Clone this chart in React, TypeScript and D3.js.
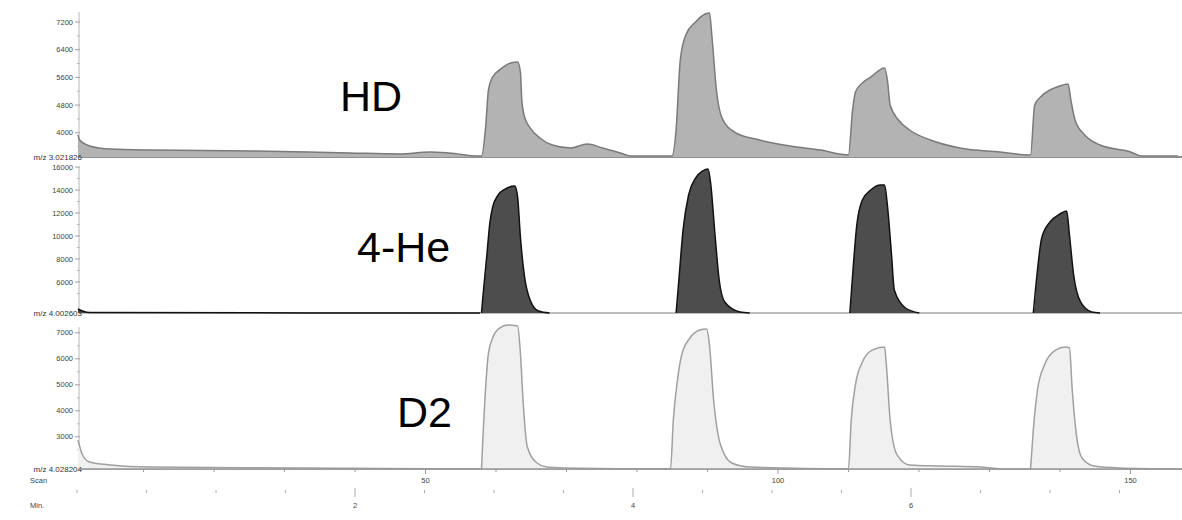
import React from "react";
import * as d3 from "d3";

// ---- data (time in minutes, signal in counts) ----
const hdTime = [0.007, 0.02, 0.09, 0.24, 0.53, 1.25, 1.96, 2.32, 2.54, 2.68, 2.89,
  2.91, 2.94, 2.96, 2.99, 3.04, 3.12, 3.17, 3.19, 3.2, 3.22, 3.26, 3.33, 3.42, 3.55, 3.67, 3.78, 3.91, 3.98, 4.28,
  4.31, 4.34, 4.38, 4.45, 4.52, 4.55, 4.57, 4.6, 4.64, 4.73, 4.91, 5.13, 5.35, 5.55,
  5.58, 5.6, 5.65, 5.71, 5.81, 5.83, 5.85, 5.91, 5.99, 6.14, 6.35, 6.64, 6.86,
  6.89, 6.94, 7.0, 7.07, 7.13, 7.15, 7.18, 7.25, 7.36, 7.58, 7.66, 7.92];
const hdSignal = [3940, 3790, 3620, 3530, 3500, 3475, 3415, 3390, 3445, 3415, 3330,
  3330, 4170, 5240, 5610, 5815, 6015, 6045, 5760, 4950, 4455, 4140, 3850, 3645, 3560, 3675, 3560, 3415, 3330, 3330,
  4080, 6100, 6825, 7200, 7430, 7460, 6680, 5235, 4430, 4020, 3790, 3620, 3500, 3360,
  4660, 5180, 5440, 5610, 5870, 5525, 4800, 4370, 4080, 3790, 3560, 3445, 3360,
  4800, 5065, 5235, 5350, 5410, 4950, 4370, 3935, 3645, 3445, 3330, 3330];

const heTime = [0.007, 0.04, 0.09, 2.9,
  2.91, 2.92, 2.95, 2.97, 2.99, 3.03, 3.08, 3.15, 3.17, 3.19, 3.22, 3.26, 3.32, 3.4,
  4.31, 4.33, 4.36, 4.4, 4.45, 4.5, 4.54, 4.56, 4.59, 4.62, 4.66, 4.77, 4.84,
  5.56, 5.58, 5.61, 5.65, 5.71, 5.78, 5.81, 5.83, 5.86, 5.88, 5.96, 6.06,
  6.88, 6.91, 6.94, 7.0, 7.07, 7.12, 7.14, 7.17, 7.22, 7.3, 7.36, 7.92];
const heSignal = [3650, 3475, 3340, 3300,
  3300, 4690, 8520, 11130, 12520, 13570, 14090, 14350, 13390, 9910, 6430, 4430, 3475, 3300,
  3300, 6170, 10520, 13570, 15045, 15650, 15830, 14440, 10090, 6170, 4260, 3390, 3300,
  3300, 6610, 10960, 13130, 14000, 14440, 14440, 12700, 8350, 5300, 3735, 3300,
  3300, 7040, 9820, 11220, 11910, 12170, 10090, 6610, 4260, 3390, 3300, 3300];

const d2Time = [0.007, 0.04, 0.09, 0.24, 0.53, 1.6, 2.9,
  2.91, 2.94, 2.96, 2.99, 3.04, 3.1, 3.17, 3.19, 3.21, 3.24, 3.31, 3.38, 3.5,
  4.27, 4.29, 4.32, 4.35, 4.41, 4.48, 4.53, 4.55, 4.58, 4.63, 4.71, 4.84,
  5.55, 5.57, 5.6, 5.65, 5.72, 5.81, 5.82, 5.85, 5.9, 5.99, 6.21, 6.5, 6.64,
  6.86, 6.88, 6.91, 6.96, 7.04, 7.11, 7.14, 7.16, 7.19, 7.23, 7.32, 7.5, 7.92];
const d2Signal = [2875, 2300, 2030, 1915, 1835, 1800, 1760,
  1760, 4915, 6220, 6800, 7180, 7300, 7260, 6220, 4300, 2605, 1990, 1835, 1800,
  1760, 3645, 5185, 6145, 6800, 7105, 7145, 6530, 4415, 2680, 1990, 1835,
  1760, 3645, 4990, 5875, 6335, 6450, 5950, 3645, 2300, 1915, 1875, 1835, 1760,
  1760, 3260, 4800, 5760, 6335, 6450, 6415, 4800, 3070, 2185, 1875, 1800, 1760];

const hdTicks = [4000, 4800, 5600, 6400, 7200];
const heTicks = [6000, 8000, 10000, 12000, 14000, 16000];
const d2Ticks = [3000, 4000, 5000, 6000, 7000];

const seriesNames = ["HD", "4-He", "D2"];
const massLabels = ["m/z 3.021826", "m/z 4.002603", "m/z 4.028204"];
const scanTicks = [50, 100, 150];
const minTicks = [2, 4, 6];

// ---- layout ----
const W = 1182;
const H = 520;
const X0 = 77;
const PX_PER_MIN = 139;
const TMAX = 7.92;

const panels = [
  { name: seriesNames[0], mz: massLabels[0], t: hdTime, v: hdSignal, ticks: hdTicks, minor: 400,
    domain: [3300, 7546], range: [157, 10], fill: "#b3b3b3", stroke: "#7a7a7a", base: "#6a6a6a",
    label: { x: 340, y: 111 } },
  { name: seriesNames[1], mz: massLabels[1], t: heTime, v: heSignal, ticks: heTicks, minor: 1000,
    domain: [3300, 16180], range: [313, 165], fill: "#4d4d4d", stroke: "#111111", base: "#a8a8a8",
    label: { x: 357, y: 262 } },
  { name: seriesNames[2], mz: massLabels[2], t: d2Time, v: d2Signal, ticks: d2Ticks, minor: 500,
    domain: [1760, 7300], range: [469, 325], fill: "#f0f0f0", stroke: "#a0a0a0", base: "#9a9a9a",
    label: { x: 397, y: 427 } },
];

type Pt = [number, number];

export default function App() {
  const x = d3.scaleLinear().domain([0, TMAX]).range([X0, X0 + PX_PER_MIN * TMAX]);
  const xs = d3.scaleLinear().domain([0, 156]).range([73, 73 + 7.05 * 156]);
  const font = "'Liberation Sans', Arial, sans-serif";
  const axisY = 469;

  const scanMinor = d3.range(10, 157, 10);
  const minMinor = d3.range(0, 7.9, 0.5);

  return (
    <svg width={W} height={H} style={{ position: "absolute", left: 0, top: 0, background: "#fff" }}
      fontFamily={font}>
      {panels.map((p, i) => {
        const y = d3.scaleLinear().domain(p.domain).range(p.range);
        const base = p.domain[0];
        const pts: Pt[] = p.t.map((t, k) => [t, p.v[k]]);
        // split outline into runs where the signal leaves the baseline
        const runs: Pt[][] = [];
        let cur: Pt[] = [];
        for (let k = 0; k < pts.length - 1; k++) {
          const on = pts[k][1] > base || pts[k + 1][1] > base;
          if (on) {
            if (cur.length === 0) cur.push(pts[k]);
            cur.push(pts[k + 1]);
          } else if (cur.length) {
            runs.push(cur);
            cur = [];
          }
        }
        if (cur.length) runs.push(cur);
        const area = d3.area<Pt>()
          .x((d) => x(d[0]))
          .y0(y(base))
          .y1((d) => y(d[1]))
          .curve(d3.curveMonotoneX);
        const line = d3.line<Pt>()
          .x((d) => x(d[0]))
          .y((d) => y(d[1]))
          .curve(d3.curveMonotoneX);
        const minors = d3.range(p.ticks[0] - p.minor, p.domain[1], p.minor)
          .filter((v) => v > p.domain[0] && !p.ticks.includes(v));
        return (
          <g key={i}>
            <line x1={79} x2={79} y1={p.range[1] + 2} y2={p.range[0]} stroke="#cfcfcf" strokeWidth={1.5} />
            {minors.map((v) => (
              <line key={"m" + v} x1={77} x2={80} y1={y(v)} y2={y(v)} stroke="#bdbdbd" />
            ))}
            {p.ticks.map((v) => (
              <g key={v}>
                <line x1={75} x2={80} y1={y(v)} y2={y(v)} stroke="#a0a0a0" />
                <text x={73} y={y(v)} dy="0.35em" textAnchor="end" fontSize={7.5} fill="#444">{v}</text>
              </g>
            ))}
            <line x1={79} x2={1182} y1={y(base)} y2={y(base)} stroke={p.base} strokeWidth={1.5} />
            <path d={area(pts) || ""} fill={p.fill} />
            {runs.map((r, j) => (
              <path key={j} d={line(r) || ""} fill="none" stroke={p.stroke} strokeWidth={1.5} />
            ))}
            <text x={82} y={y(base) + 3} textAnchor="end" fontSize={8} fill="#333">{p.mz}</text>
            <text x={p.label.x} y={p.label.y} fontSize={43} fill="#000">{p.name}</text>
          </g>
        );
      })}

      {/* bottom axes */}
      <line x1={79} x2={1182} y1={axisY} y2={axisY} stroke="#999" strokeWidth={1.5} />
      {scanMinor.map((s) => (
        <line key={"s" + s} x1={xs(s)} x2={xs(s)} y1={axisY} y2={axisY + (scanTicks.includes(s) ? 5 : 3)} stroke="#999" />
      ))}
      {scanTicks.map((s) => (
        <text key={"sl" + s} x={xs(s)} y={axisY + 14} textAnchor="middle" fontSize={7.5} fill="#444">{s}</text>
      ))}
      <text x={30} y={axisY + 14} fontSize={7.5} fill="#444">Scan</text>
      {minMinor.map((m) => (
        <line key={"mm" + m} x1={x(m)} x2={x(m)} y1={minTicks.includes(m) ? 488 : 490} y2={minTicks.includes(m) ? 497 : 493} stroke="#aaa" />
      ))}
      {minTicks.map((m) => (
        <text key={"ml" + m} x={x(m)} y={508} textAnchor="middle" fontSize={7.5} fill="#444">{m}</text>
      ))}
      <text x={30} y={508} fontSize={7.5} fill="#444">Min.</text>
    </svg>
  );
}
